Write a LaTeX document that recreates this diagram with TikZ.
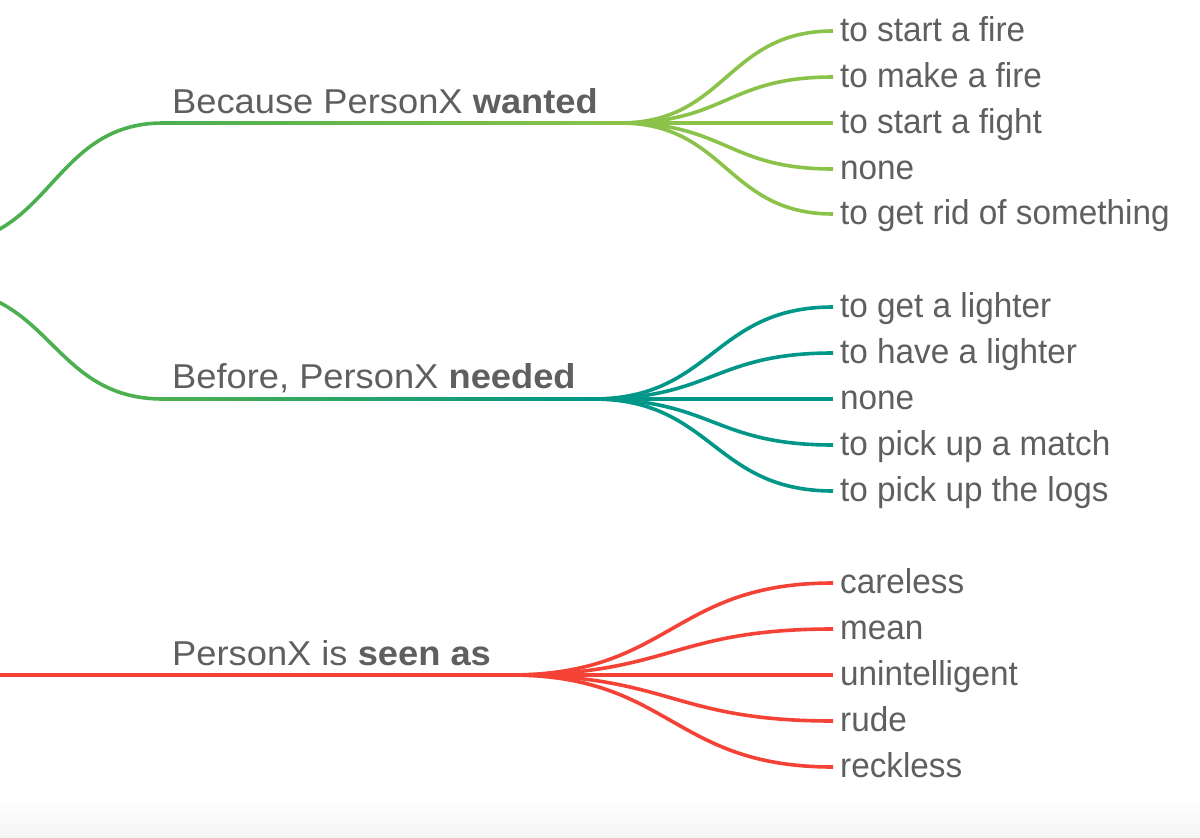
\documentclass[tikz,border=0pt]{standalone}
\usepackage{fontspec}
\setmainfont{Liberation Sans}
\newfontfamily\leaffont[FakeStretch=0.965]{Liberation Sans}
\newfontfamily\lblfont[FakeStretch=1.052]{Liberation Sans}
\usetikzlibrary{calc}
\definecolor{mmgreen}{HTML}{4CAF50}
\definecolor{mmlight}{HTML}{8BC34A}
\definecolor{mmteal}{HTML}{009688}
\definecolor{mmred}{HTML}{F44336}
\definecolor{txt}{HTML}{5F5F5F}
\newcommand\mmlink[3]{\draw[#1] let \p1=(#2), \p2=(#3) in (#2) .. controls ({(\x1+\x2)/2},\y1) and ({(\x1+\x2)/2},\y2) .. (#3);}
\begin{document}
\begin{tikzpicture}[x=1pt,y=-1pt,
  wire/.style={line width=3.6pt},
  leaf/.style={inner sep=0pt, anchor=base west, text=txt, font=\leaffont\fontsize{34.5}{40}\selectfont},
  branch/.style={inner sep=0pt, anchor=base west, text=txt, font=\lblfont\fontsize{34.5}{40}\selectfont}]
\useasboundingbox (0,0) rectangle (1200,838);
\shade[top color=white, bottom color=black!4] (0,795) rectangle (1200,838);
\begin{scope}
\clip (0,0) rectangle (1200,838);
% roots (off canvas)
\coordinate (r1) at (-60,244);
\coordinate (r2) at (-60,289);
\coordinate (r3) at (0,675);
% branch underline ends
\coordinate (a0) at (163,123); \coordinate (a1) at (620,123);
\coordinate (b0) at (163,399); \coordinate (b1) at (593,399);
\coordinate (c0) at (163,675); \coordinate (c1) at (510,675);
% branch labels
\node[branch] (la) at (172,113) {Because PersonX \textbf{wanted}};
\node[branch] (lb) at (172,388) {Before, PersonX \textbf{needed}};
\node[branch] (lc) at (172,665) {PersonX is \textbf{seen as}};
% root links
\mmlink{wire,mmgreen}{r1}{a0}
\mmlink{wire,mmgreen}{r2}{b0}
\draw[wire,mmred] (r3) -- (c0);
% underlines
\shade[left color=mmgreen, right color=mmlight] (163,121.2) rectangle (620,124.8);
\shade[left color=mmgreen, right color=mmteal] (163,397.2) rectangle (593,400.8);
\fill[mmred] (163,673.2) rectangle (510,676.8);
% leaves
\foreach \k/\yy/\tt in {1/31/to start a fire, 2/77/to make a fire, 3/123/to start a fight, 4/169/none, 5/214/to get rid of something}{
  \node[leaf] (w\k) at (840,\yy+10) {\tt};
  \coordinate (we\k) at ([xshift=-7pt,yshift=10pt]w\k.base west);
  \mmlink{wire,mmlight}{a1}{we\k}
}
\foreach \k/\yy/\tt in {1/307/to get a lighter, 2/353/to have a lighter, 3/399/none, 4/445/to pick up a match, 5/491/to pick up the logs}{
  \node[leaf] (v\k) at (840,\yy+10) {\tt};
  \coordinate (ve\k) at ([xshift=-7pt,yshift=10pt]v\k.base west);
  \mmlink{wire,mmteal}{b1}{ve\k}
}
\foreach \k/\yy/\tt in {1/583/careless, 2/629/mean, 3/675/unintelligent, 4/721/rude, 5/767/reckless}{
  \node[leaf] (s\k) at (840,\yy+10) {\tt};
  \coordinate (se\k) at ([xshift=-7pt,yshift=10pt]s\k.base west);
  \mmlink{wire,mmred}{c1}{se\k}
}
\end{scope}
\end{tikzpicture}
\end{document}
